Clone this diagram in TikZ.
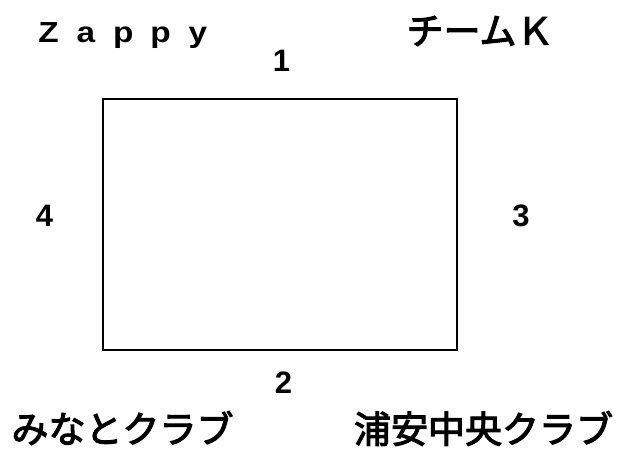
\documentclass[tikz,border=0pt]{standalone}
\usepackage{fontspec}
\setmainfont{Liberation Sans}
\newfontfamily\jpfont[FakeBold=3]{Noto Sans CJK JP}
\newcommand\wl[1]{\makebox[37.3pt][c]{\scalebox{1.15}[1]{#1}}}
\begin{document}
\begin{tikzpicture}[x=1pt,y=-1pt,
  lbl/.style={inner sep=0pt,outer sep=0pt},
  num/.style={lbl,font=\bfseries\fontsize{31}{31}\selectfont},
  jp/.style={lbl,font=\jpfont\fontsize{37}{37}\selectfont},
  field/.style={draw=black,line width=2pt,inner sep=0pt,minimum width=354pt,minimum height=250pt}]
\useasboundingbox[fill=white] (0,0) rectangle (618,449);
\node[field] (box) at (279.5,224.5) {};
\node[num] (n1) at (281.5,60.5) {1};
\node[num] (n2) at (283.5,382.5) {2};
\node[num] (n3) at (521,215.5) {3};
\node[num] (n4) at (44.5,215.5) {4};
\node[lbl,anchor=base west,font=\bfseries\fontsize{29}{29}\selectfont] (zappy) at (30,43) {\wl{Z}\wl{a}\wl{p}\wl{p}\wl{y}};
\node[jp] (teamk) at (480,31) {チームＫ};
\node[jp] (minato) at (122.5,428) {みなとクラブ};
\node[jp] (urayasu) at (483.5,428.5) {浦安中央クラブ};
\end{tikzpicture}
\end{document}
